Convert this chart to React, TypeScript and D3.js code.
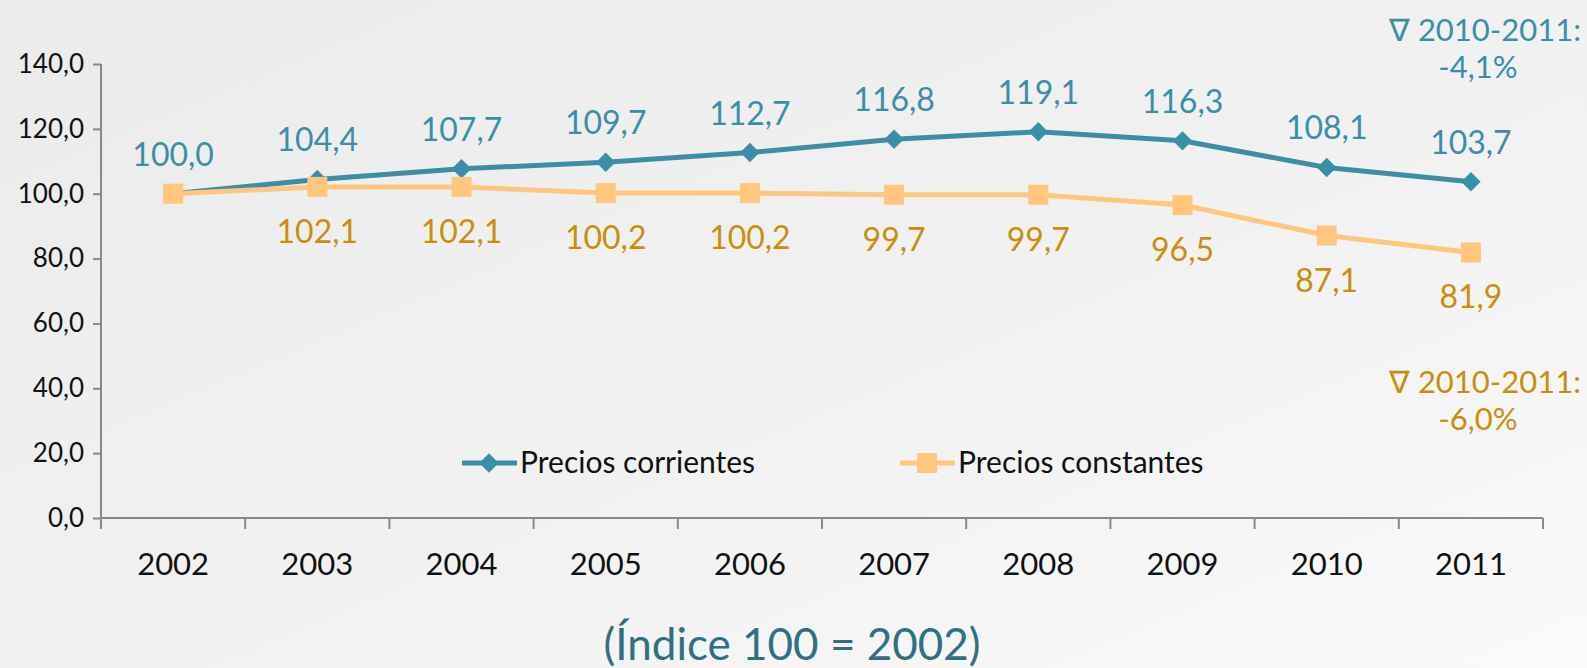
import * as React from 'react';
import * as d3 from 'd3';

const years = ['2002', '2003', '2004', '2005', '2006', '2007', '2008', '2009', '2010', '2011'];
const corrientes = [100.0, 104.4, 107.7, 109.7, 112.7, 116.8, 119.1, 116.3, 108.1, 103.7];
const constantes = [100.0, 102.1, 102.1, 100.2, 100.2, 99.7, 99.7, 96.5, 87.1, 81.9];
const yTicks = [0, 20, 40, 60, 80, 100, 120, 140];
const seriesNames = ['Precios corrientes', 'Precios constantes'];

const width = 1587;
const height = 668;
const font = 'Lato, "Open Sans", sans-serif';
const teal = '#3a8fa7';
const orangeLine = '#ffc67e';
const orangeText = '#c98f0b';

const fmt = (v: number) => v.toFixed(1).replace('.', ',');

export default function App() {
  const svg_root = React.useRef() as React.MutableRefObject<any>;

  React.useEffect(() => {
    document.body.style.margin = '0';
    const svg = d3.select(svg_root.current);
    svg.selectAll('*').remove();

    const defs = svg.append('defs');
    const grad = defs.append('linearGradient').attr('id', 'bg').attr('x1', 0).attr('y1', 0).attr('x2', 1).attr('y2', 1);
    grad.append('stop').attr('offset', '0%').attr('stop-color', '#ebebeb');
    grad.append('stop').attr('offset', '60%').attr('stop-color', '#f2f2f2');
    grad.append('stop').attr('offset', '100%').attr('stop-color', '#fafafa');
    svg.append('rect').attr('width', width).attr('height', height).attr('fill', 'url(#bg)');

    const x = d3.scaleBand().domain(years).range([101, 1543]);
    const y = d3.scaleLinear().domain([0, 140]).range([518, 64]);
    const cx = (i: number) => (x(years[i]) as number) + x.bandwidth() / 2;

    // y axis
    const yAxis = svg.append('g').attr('transform', 'translate(101,0)')
      .call(d3.axisLeft(y).tickValues(yTicks).tickSize(8).tickFormat((d) => fmt(+d)));
    yAxis.select('.domain').attr('stroke', '#888').attr('stroke-width', 2).attr('d', `M0,${y(140)}V${y(0)}`);
    yAxis.selectAll('.tick line').attr('stroke', '#888').attr('stroke-width', 2);
    yAxis.selectAll('.tick text').attr('font-family', font).attr('font-size', 26).attr('fill', '#111').attr('x', -17);

    // x axis
    const xAxis = svg.append('g').attr('transform', `translate(0,${y(0)})`)
      .call(d3.axisBottom(x).tickSize(0).tickFormat((d) => d as string));
    xAxis.select('.domain').attr('stroke', '#888').attr('stroke-width', 2).attr('d', `M101,0H1543`);
    xAxis.selectAll('.tick text').attr('font-family', font).attr('font-size', 31).attr('fill', '#111').attr('dy', 0).attr('y', 57);
    xAxis.selectAll('.tick line').remove();
    const bounds = years.map((yr) => x(yr) as number).concat([1543]);
    svg.append('g').selectAll('line').data(bounds).enter().append('line')
      .attr('x1', (d) => d).attr('x2', (d) => d)
      .attr('y1', y(0)).attr('y2', y(0) + 11)
      .attr('stroke', '#888').attr('stroke-width', 2);

    const line = d3.line<number>().x((_, i) => cx(i)).y((d) => y(d));

    // corrientes
    svg.append('path').datum(corrientes).attr('d', line).attr('fill', 'none')
      .attr('stroke', teal).attr('stroke-width', 5);
    const diamond = d3.symbol().type(d3.symbolDiamond2).size(240);
    svg.append('g').selectAll('path').data(corrientes).enter().append('path')
      .attr('d', diamond).attr('transform', (d, i) => `translate(${cx(i)},${y(d)})`)
      .attr('fill', teal);

    // constantes (drawn on top)
    svg.append('path').datum(constantes).attr('d', line).attr('fill', 'none')
      .attr('stroke', orangeLine).attr('stroke-width', 5);
    svg.append('g').selectAll('rect').data(constantes).enter().append('rect')
      .attr('x', (_, i) => cx(i) - 10).attr('y', (d) => y(d) - 10)
      .attr('width', 20).attr('height', 20).attr('fill', orangeLine);

    // labels
    svg.append('g').selectAll('text').data(corrientes).enter().append('text')
      .attr('x', (_, i) => cx(i)).attr('y', (d) => y(d) - 28)
      .attr('text-anchor', 'middle').attr('font-family', font).attr('font-size', 32)
      .attr('fill', teal).text((d) => fmt(d));
    svg.append('g').selectAll('text').data(constantes.slice(1)).enter().append('text')
      .attr('x', (_, i) => cx(i + 1)).attr('y', (d) => y(d) + 56)
      .attr('text-anchor', 'middle').attr('font-family', font).attr('font-size', 32)
      .attr('fill', orangeText).text((d) => fmt(d));

    // legend
    const legend = [
      { name: seriesNames[0], x0: 462, color: teal, shape: 'diamond' },
      { name: seriesNames[1], x0: 900, color: orangeLine, shape: 'square' },
    ];
    legend.forEach((l) => {
      const g = svg.append('g').attr('transform', `translate(${l.x0},463)`);
      g.append('line').attr('x1', 0).attr('x2', 55).attr('stroke', l.color).attr('stroke-width', 5);
      if (l.shape === 'diamond') {
        g.append('path').attr('d', diamond).attr('transform', 'translate(27,0)').attr('fill', l.color);
      } else {
        g.append('rect').attr('x', 17).attr('y', -10).attr('width', 20).attr('height', 20).attr('fill', l.color);
      }
      g.append('text').attr('x', 58).attr('y', 10).attr('font-family', font).attr('font-size', 30)
        .attr('fill', '#111').text(l.name);
    });

    // annotations
    const notes = [
      { lines: ['∇ 2010-2011:', '-4,1%'], y0: 41, color: teal },
      { lines: ['∇ 2010-2011:', '-6,0%'], y0: 393, color: orangeText },
    ];
    notes.forEach((n) => {
      svg.append('text').attr('x', 1581).attr('y', n.y0).attr('text-anchor', 'end')
        .attr('font-family', font).attr('font-size', 31).attr('fill', n.color).text(n.lines[0]);
      svg.append('text').attr('x', 1478).attr('y', n.y0 + 37).attr('text-anchor', 'middle')
        .attr('font-family', font).attr('font-size', 31).attr('fill', n.color).text(n.lines[1]);
    });

    svg.append('text').attr('x', 792).attr('y', 660).attr('text-anchor', 'middle')
      .attr('font-family', font).attr('font-size', 44).attr('fill', '#2f7183').text('(Índice 100 = 2002)');
  }, []);

  return (
    <div>
      <svg width={width} height={height} ref={svg_root} style={{ display: 'block' }}></svg>
    </div>
  );
}
